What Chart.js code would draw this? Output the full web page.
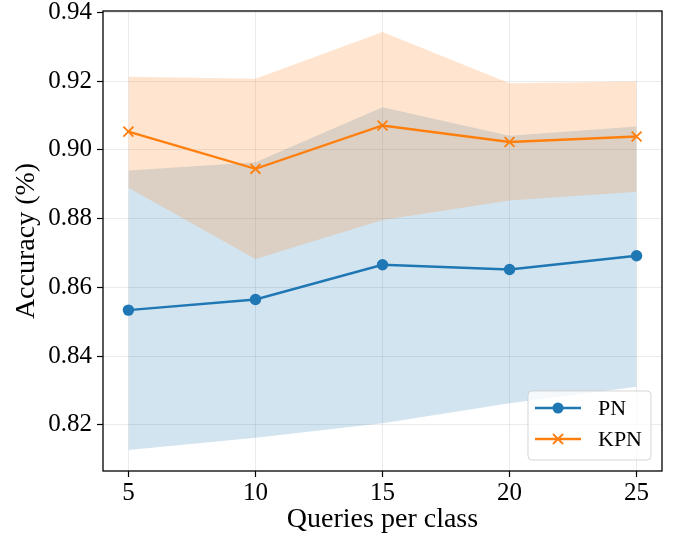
<!DOCTYPE html>
<html>
<head>
<meta charset="utf-8">
<script src="https://cdn.jsdelivr.net/npm/chart.js@4.4.1/dist/chart.umd.min.js"></script>
<style>
  html, body { margin: 0; padding: 0; background: #fff; }
  #wrap { width: 677px; height: 537px; }
</style>
</head>
<body>
<div id="wrap"><canvas id="chart" width="677" height="537"></canvas></div>
<script>
const queries = [5, 10, 15, 20, 25];

const pnMean = [0.8534, 0.8565, 0.8666, 0.8652, 0.8692];
const pnUpper = [0.8940, 0.8964, 0.9124, 0.9041, 0.9068];
const pnLower = [0.8127, 0.8163, 0.8205, 0.8263, 0.8311];

const kpnMean = [0.9053, 0.8945, 0.9071, 0.9023, 0.9039];
const kpnUpper = [0.9213, 0.9207, 0.9343, 0.9194, 0.9199];
const kpnLower = [0.8890, 0.8683, 0.8796, 0.8853, 0.8878];

const xTicks = [5, 10, 15, 20, 25];
const yTicks = [0.82, 0.84, 0.86, 0.88, 0.90, 0.92, 0.94];

const BLUE = "#1f77b4";
const ORANGE = "#ff7f0e";
const SERIF = "'Liberation Serif', 'DejaVu Serif', serif";

const pts = (ys) => queries.map((x, i) => ({ x, y: ys[i] }));

const band = (ys, fill, color) => ({
  data: pts(ys),
  fill,
  backgroundColor: color,
  borderWidth: 0,
  borderColor: "transparent",
  pointRadius: 0,
  order: 3,
});

// frame around the plot area, like matplotlib spines
const framePlugin = {
  id: "frame",
  afterDraw(chart) {
    const { ctx, chartArea: a } = chart;
    ctx.save();
    ctx.strokeStyle = "#000";
    ctx.lineWidth = 1.3;
    ctx.strokeRect(a.left, a.top, a.right - a.left, a.bottom - a.top);
    ctx.restore();
  },
};

const legendItems = [
  { label: "PN", color: BLUE, marker: "circle" },
  { label: "KPN", color: ORANGE, marker: "cross" },
];

const legendPlugin = {
  id: "boxLegend",
  afterDraw(chart) {
    const { ctx } = chart;
    const x = 528, y = 391, w = 123, h = 69, r = 4;
    ctx.save();
    ctx.beginPath();
    ctx.roundRect(x, y, w, h, r);
    ctx.fillStyle = "rgba(255,255,255,0.8)";
    ctx.fill();
    ctx.strokeStyle = "rgba(204,204,204,0.8)";
    ctx.lineWidth = 1;
    ctx.stroke();

    ctx.font = `22px ${SERIF}`;
    ctx.textBaseline = "middle";
    ctx.textAlign = "left";
    legendItems.forEach((item, i) => {
      const cy = 408 + i * 31;
      ctx.strokeStyle = item.color;
      ctx.lineWidth = 2.3;
      ctx.beginPath();
      ctx.moveTo(535, cy);
      ctx.lineTo(581, cy);
      ctx.stroke();
      if (item.marker === "circle") {
        ctx.fillStyle = item.color;
        ctx.beginPath();
        ctx.arc(558, cy, 5.5, 0, Math.PI * 2);
        ctx.fill();
      } else {
        ctx.lineWidth = 1.8;
        ctx.beginPath();
        ctx.moveTo(553, cy - 5);
        ctx.lineTo(563, cy + 5);
        ctx.moveTo(553, cy + 5);
        ctx.lineTo(563, cy - 5);
        ctx.stroke();
      }
      ctx.fillStyle = "#000";
      ctx.fillText(item.label, 598, cy + 1);
    });
    ctx.restore();
  },
};

new Chart(document.getElementById("chart"), {
  type: "line",
  data: {
    datasets: [
      {
        label: "KPN",
        data: pts(kpnMean),
        borderColor: ORANGE,
        backgroundColor: ORANGE,
        borderWidth: 2.4,
        pointStyle: "crossRot",
        pointRadius: 7,
        pointBorderWidth: 1.8,
        fill: false,
        order: 1,
      },
      {
        label: "PN",
        data: pts(pnMean),
        borderColor: BLUE,
        backgroundColor: BLUE,
        borderWidth: 2.4,
        pointStyle: "circle",
        pointRadius: 5.7,
        pointBorderWidth: 0,
        fill: false,
        order: 1,
      },
      band(kpnUpper, "+1", "rgba(255,127,14,0.2)"),
      band(kpnLower, false, "transparent"),
      band(pnUpper, "+1", "rgba(31,119,180,0.2)"),
      band(pnLower, false, "transparent"),
    ],
  },
  options: {
    responsive: false,
    animation: false,
    layout: { padding: { left: 0, top: 11, right: 15, bottom: 0 } },
    plugins: {
      legend: { display: false },
      tooltip: { enabled: false },
    },
    scales: {
      x: {
        type: "linear",
        min: 4,
        max: 26,
        afterBuildTicks: (s) => { s.ticks = xTicks.map((v) => ({ value: v })); },
        afterFit: (s) => {
          s.height = 66;
          s.paddingLeft = 0;
          s.paddingRight = 0;
        },
        grid: {
          color: "rgba(176,176,176,0.25)",
          tickColor: "#000",
          tickLength: 6,
          tickWidth: 1.2,
        },
        border: { display: false },
        ticks: {
          color: "#000",
          font: { family: SERIF, size: 25 },
          padding: 1,
          maxRotation: 0,
        },
        title: {
          display: true,
          text: "Queries per class",
          color: "#000",
          font: { family: SERIF, size: 28 },
          padding: { top: 0, bottom: 1 },
        },
      },
      y: {
        min: 0.8066,
        max: 0.9404,
        afterBuildTicks: (s) => { s.ticks = yTicks.map((v) => ({ value: v })); },
        afterFit: (s) => {
          s.width = 103;
          s.paddingTop = 0;
          s.paddingBottom = 0;
        },
        grid: {
          color: "rgba(176,176,176,0.25)",
          tickColor: "#000",
          tickLength: 6,
          tickWidth: 1.2,
        },
        border: { display: false },
        ticks: {
          color: "#000",
          font: { family: SERIF, size: 25 },
          padding: 5,
          callback: (v) => v.toFixed(2),
        },
        title: {
          display: true,
          text: "Accuracy (%)",
          color: "#000",
          font: { family: SERIF, size: 28 },
          padding: { top: 10, bottom: 0 },
        },
      },
    },
  },
  plugins: [framePlugin, legendPlugin],
});
</script>
</body>
</html>
